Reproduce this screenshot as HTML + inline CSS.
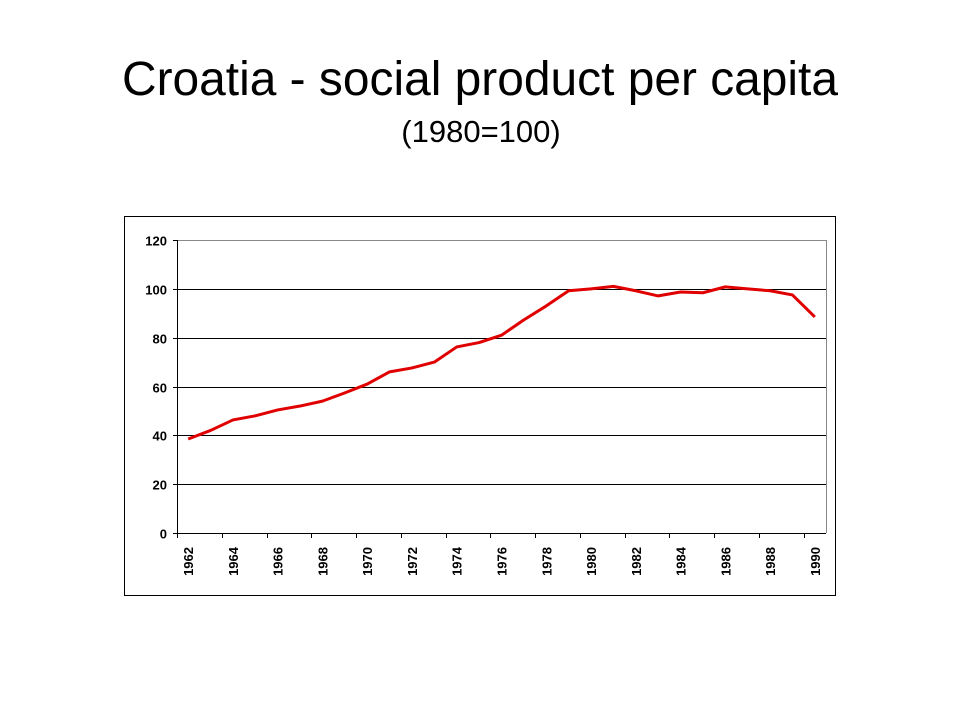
<!DOCTYPE html>
<html><head><meta charset="utf-8"><style>
body{margin:0;width:960px;height:720px;background:#fff;font-family:"Liberation Sans",Arial,sans-serif;overflow:hidden}
</style></head><body>
<svg width="960" height="720" font-family="Liberation Sans, Arial, sans-serif">
<text x="480" y="95" text-anchor="middle" font-size="48" textLength="716" lengthAdjust="spacingAndGlyphs">Croatia - social product per capita</text>
<text x="481" y="142" text-anchor="middle" font-size="31">(1980=100)</text>
<rect x="124.5" y="216.5" width="711" height="379" fill="none" stroke="#000"/>
<g id="grid"></g><g id="axes"></g><g id="series"></g>
</svg>
<script>
const years=[1962,1963,1964,1965,1966,1967,1968,1969,1970,1971,1972,1973,1974,1975,1976,1977,1978,1979,1980,1981,1982,1983,1984,1985,1986,1987,1988,1989,1990];
const values=[38.5,42,46.3,48,50.4,52,54,57.4,61,66,67.6,70,76.2,78,81,87.3,93,99.2,100,101,99.2,97.1,98.7,98.4,100.8,100,99.2,97.5,88.5];
const yTicks=[0,20,40,60,80,100,120];
const NS="http://www.w3.org/2000/svg";
const L=177,R=826,T=240,B=533;
const step=(R-L)/years.length;
const xs=i=>L+step*(i+0.5);
const ys=v=>B-(v/120)*(B-T);
function mk(t,a,p){const e=document.createElementNS(NS,t);for(const k in a)e.setAttribute(k,a[k]);p.appendChild(e);return e;}
const grid=document.getElementById('grid'),axes=document.getElementById('axes'),ser=document.getElementById('series');
yTicks.forEach(v=>{
  const y=Math.round(ys(v))+0.5;
  if(v>0){const g=mk('line',{x1:L,x2:R,y1:y,y2:y,stroke:v==120?'#888':'#000','stroke-width':1},grid);
  
  }
  const tk=mk('line',{x1:L-4,x2:L,y1:y,y2:y,stroke:'#000'},axes);
  
  
  const t=mk('text',{x:L-10,y:y+5,'text-anchor':'end','font-size':13,'font-weight':'bold'},axes);t.textContent=v;
  
  
});
mk('line',{x1:R+0.5,x2:R+0.5,y1:T,y2:B,stroke:'#888'},grid);
const ya=mk('line',{x1:L+0.5,x2:L+0.5,y1:T,y2:B,stroke:'#000'},axes);


const xa=mk('line',{x1:L,x2:R,y1:B+0.5,y2:B+0.5,stroke:'#000'},axes);


years.forEach((yr,i)=>{
  const bx=Math.round(L+step*i)+0.5;
  if(i%2==0) mk('line',{x1:bx,x2:bx,y1:B,y2:B+5,stroke:'#000'},axes);
  if(i%2==0){const x=xs(i)+5,y=B+14;
  const t=mk('text',{x:x,y:y,'text-anchor':'end','font-size':13,'font-weight':'bold',transform:`rotate(-90 ${x} ${y})`},axes);t.textContent=yr;
  
  }
});
const p=mk('polyline',{points:values.map((v,i)=>xs(i)+','+ys(v)).join(' '),fill:'none',stroke:'#e00000','stroke-width':3,'stroke-linejoin':'round'},ser);


</script>
</body></html>
